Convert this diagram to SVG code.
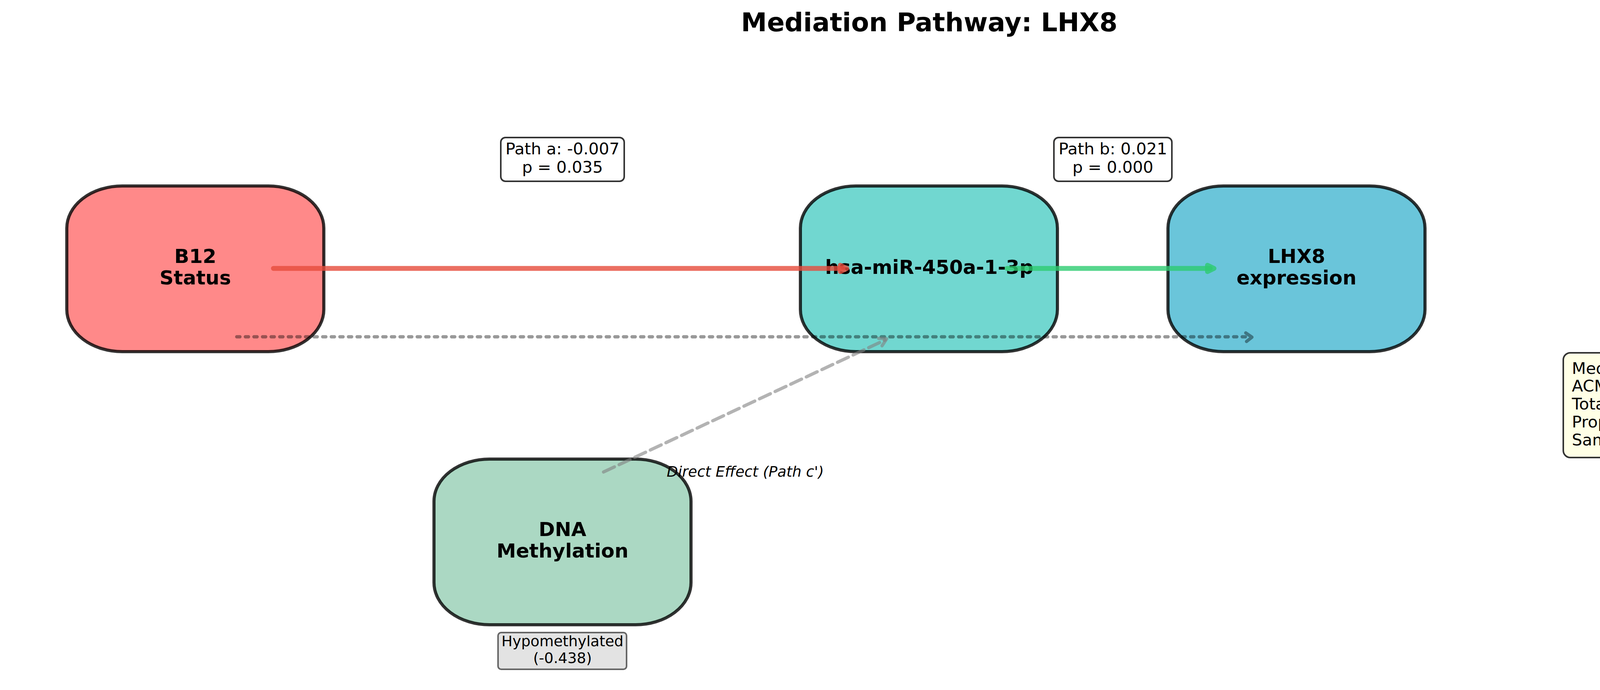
<svg xmlns="http://www.w3.org/2000/svg" width="4758" height="1766" viewBox="0 0 4758 1766">
<style>
text { font-family: "DejaVu Sans", "Liberation Sans", sans-serif; fill: #000; }
.title { font-size: 66.7px; font-weight: bold; text-anchor: middle; }
.node rect.box { stroke: #000; stroke-opacity: 0.8; stroke-width: 8; }
.nlabel { font-size: 50px; font-weight: bold; text-anchor: middle; }
.small { font-size: 41.7px; text-anchor: middle; }
.tiny { font-size: 37.5px; text-anchor: middle; }
.lbox { fill: #ffffff; stroke: #333333; stroke-width: 4; }
.shaft { fill: none; stroke-width: 12.5; stroke-linecap: round; }
.head { stroke-width: 12; stroke-linejoin: round; }
.red { stroke: #e74c3c; fill: #e74c3c; opacity: 0.8; }
.green { stroke: #2ecc71; fill: #2ecc71; opacity: 0.8; }
.dotted { fill: none; stroke: #000; stroke-opacity: 0.4; stroke-width: 8.3; stroke-linecap: round; stroke-dasharray: 8.3 13.7; }
.dashed { fill: none; stroke: #808080; stroke-opacity: 0.6; stroke-width: 8.3; stroke-linecap: round; stroke-dasharray: 30.8 13.3; }
.chev { fill: none; stroke-width: 8.3; stroke-linecap: round; stroke-linejoin: round; }
</style>

<text class="title" x="2379" y="80">Mediation Pathway: LHX8</text>

<g id="node-b12" class="node">
  <rect class="box" x="171" y="476" width="658" height="424" rx="142" ry="108" fill="#ff8989"/>
  <text class="nlabel" x="500" y="673">B12</text>
  <text class="nlabel" x="500" y="728">Status</text>
</g>

<g id="node-mirna" class="node">
  <rect class="box" x="2049" y="476" width="658" height="424" rx="142" ry="108" fill="#71d7d0"/>
  <text class="nlabel" x="2379" y="701">hsa-miR-450a-1-3p</text>
</g>

<g id="node-lhx8" class="node">
  <rect class="box" x="2990" y="476" width="658" height="424" rx="142" ry="108" fill="#6ac5da"/>
  <text class="nlabel" x="3319" y="673">LHX8</text>
  <text class="nlabel" x="3319" y="728">expression</text>
</g>

<g id="node-dna" class="node">
  <rect class="box" x="1111" y="1175" width="658" height="424" rx="142" ry="108" fill="#abd8c3"/>
  <text class="nlabel" x="1440" y="1372">DNA</text>
  <text class="nlabel" x="1440" y="1427">Methylation</text>
  <rect x="1275" y="1619" width="329" height="94" rx="8" fill="#e3e3e3" stroke="#666666" stroke-width="4"/>
  <text class="tiny" x="1440" y="1654">Hypomethylated</text>
  <text class="tiny" x="1440" y="1697">(-0.438)</text>
</g>

<g id="results">
  <rect x="4002" y="903" width="611" height="268" rx="18" fill="#ffffe6" stroke="#333333" stroke-width="4"/>
  <text font-size="41.7" x="4024" y="957">Mediation Analysis Results:</text>
  <text font-size="41.7" x="4024" y="1002">ACME: -0.0001</text>
  <text font-size="41.7" x="4024" y="1048">Total Effect: -0.0002</text>
  <text font-size="41.7" x="4024" y="1094">Proportion Mediated: 0.739</text>
  <text font-size="41.7" x="4024" y="1140">Sample Size: 50</text>
</g>

<g id="connectors">
  <!-- Path a: B12 -> miRNA -->
  <line class="shaft red" x1="700" y1="687" x2="2158" y2="687"/>
  <path class="head red" d="M2168,687 L2151,678.7 L2151,695.3 Z"/>
  <!-- Path b: miRNA -> LHX8 -->
  <line class="shaft green" x1="2578" y1="687" x2="3098" y2="687"/>
  <path class="head green" d="M3108,687 L3091,678.7 L3091,695.3 Z"/>
  <!-- Direct effect c' (dotted) -->
  <line class="dotted" x1="606" y1="862" x2="3195" y2="862"/>
  <path class="chev" stroke="#000" stroke-opacity="0.4" d="M3189,852 L3205,863 L3191,874"/>
  <!-- DNA methylation -> miRNA (dashed) -->
  <line class="dashed" x1="1545" y1="1208" x2="2266" y2="870"/>
  <path class="chev" stroke="#808080" stroke-opacity="0.6" d="M2249,866 L2270,867 L2258,885"/>

  <g id="edge-labels">
    <rect class="lbox" x="1282" y="352" width="316" height="112" rx="12"/>
    <text class="small" x="1440" y="395">Path a: -0.007</text>
    <text class="small" x="1440" y="442">p = 0.035</text>
    <rect class="lbox" x="2698" y="352" width="302" height="112" rx="12"/>
    <text class="small" x="2849" y="395">Path b: 0.021</text>
    <text class="small" x="2849" y="442">p = 0.000</text>
    <text class="tiny" x="1908" y="1220" font-style="italic">Direct Effect (Path c')</text>
  </g>
</g>
</svg>
